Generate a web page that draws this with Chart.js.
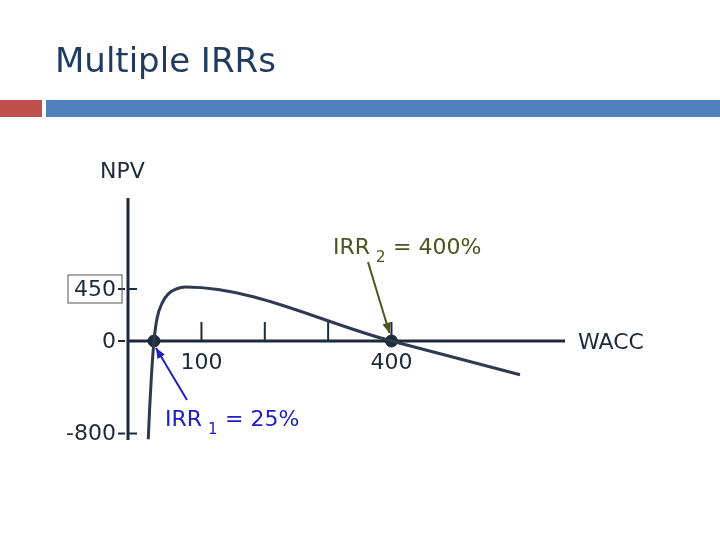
<!DOCTYPE html>
<html><head><meta charset="utf-8">
<script src="https://cdn.jsdelivr.net/npm/chart.js@4"></script>
<style>html,body{margin:0;padding:0;background:#fff}#w{position:relative;width:720px;height:540px}</style>
</head><body><div id="w"><canvas id="c" width="720" height="540"></canvas></div>
<script>
const curveX = [16, 18, 21, 25, 30, 38, 48, 60, 75, 400, 603];
const curveY = [-850, -600, -300, 0, 200, 330, 410, 450, 467, 0, -292];
const irrX = [25, 400];
const irrY = [0, 0];
const xTicks = [100, 200, 300, 400];
const xTickLabels = ['100', '', '', '400'];
const yTicks = [450, 0, -800];
const yTickLabels = ['450', '0', '-800'];

const deco = {
  id: 'deco',
  beforeDraw(chart) {
    const c = chart.ctx, xs = chart.scales.x, ys = chart.scales.y, a = chart.chartArea;
    c.save();
    c.fillStyle = '#fff'; c.fillRect(0, 0, 720, 540);
    c.fillStyle = '#c0504d'; c.fillRect(0, 100, 42, 17);
    c.fillStyle = '#4f81bd'; c.fillRect(46, 100, 674, 17);
    c.fillStyle = '#1f3b5f'; c.font = '34px "DejaVu Sans"'; c.textBaseline = 'alphabetic';
    c.fillText('Multiple IRRs', 55, 72);
    const dark = '#1e2a3c';
    c.strokeStyle = dark; c.lineWidth = 3;
    const y0 = ys.getPixelForValue(0);
    c.beginPath(); c.moveTo(a.left, a.top); c.lineTo(a.left, a.bottom); c.stroke();
    c.beginPath(); c.moveTo(a.left, y0); c.lineTo(a.right, y0); c.stroke();
    c.lineWidth = 2;
    xTicks.forEach(v => { const px = xs.getPixelForValue(v); c.beginPath(); c.moveTo(px, y0 - 19); c.lineTo(px, y0); c.stroke(); });
    c.font = '22px "DejaVu Sans"'; c.fillStyle = dark; c.textAlign = 'center'; c.textBaseline = 'middle';
    xTicks.forEach((v, i) => { if (xTickLabels[i]) c.fillText(xTickLabels[i], xs.getPixelForValue(v), y0 + 22); });
    c.textAlign = 'right';
    yTicks.forEach((v, i) => {
      const py = ys.getPixelForValue(v);
      c.beginPath(); c.moveTo(a.left, py); c.lineTo(a.left + 9, py); c.stroke();
      c.beginPath(); c.moveTo(a.left - 3, py); c.lineTo(a.left - 10, py); c.stroke();
      c.fillText(yTickLabels[i], a.left - 12, py + 1);
    });
    c.lineWidth = 1; c.strokeStyle = '#555';
    const p450 = ys.getPixelForValue(450);
    c.strokeRect(68, p450 - 14, 54, 28);
    c.textAlign = 'left';
    c.fillText('NPV', 100, 172);
    c.fillText('WACC', 578, 343);
    c.fillStyle = '#4a5520';
    c.fillText('IRR', 333, 248);
    c.font = '15px "DejaVu Sans"'; c.fillText('2', 376, 258);
    c.font = '22px "DejaVu Sans"'; c.fillText(' = 400%', 386, 248);
    c.fillStyle = '#2020c0';
    c.fillText('IRR', 165, 420);
    c.font = '15px "DejaVu Sans"'; c.fillText('1', 208, 430);
    c.font = '22px "DejaVu Sans"'; c.fillText(' = 25%', 218, 420);
    c.restore();
  },
  afterDraw(chart) {
    const c = chart.ctx, xs = chart.scales.x, ys = chart.scales.y;
    const arrow = (x1, y1, x2, y2, col) => {
      c.strokeStyle = col; c.fillStyle = col; c.lineWidth = 2;
      c.beginPath(); c.moveTo(x1, y1); c.lineTo(x2, y2); c.stroke();
      const ang = Math.atan2(y2 - y1, x2 - x1), L = 11;
      c.beginPath(); c.moveTo(x2, y2);
      c.lineTo(x2 - L * Math.cos(ang - 0.4), y2 - L * Math.sin(ang - 0.4));
      c.lineTo(x2 - L * Math.cos(ang + 0.4), y2 - L * Math.sin(ang + 0.4));
      c.closePath(); c.fill();
    };
    c.save();
    const y0 = ys.getPixelForValue(0);
    arrow(368, 262, xs.getPixelForValue(400) - 2, y0 - 8, '#4a5520');
    arrow(187, 400, xs.getPixelForValue(25) + 2, y0 + 7, '#2020c0');
    c.restore();
  }
};

new Chart(document.getElementById('c'), {
  type: 'scatter',
  data: { datasets: [
    { data: curveX.map((x, i) => ({x, y: curveY[i]})), showLine: true, borderColor: '#2d3a4f', borderWidth: 3, pointRadius: 0, tension: 0.3, cubicInterpolationMode: 'monotone' },
    { data: irrX.map((x, i) => ({x, y: irrY[i]})), pointRadius: 6, pointBackgroundColor: '#1e2a3c', pointBorderColor: '#1e2a3c' }
  ]},
  options: {
    responsive: false, animation: false, events: [],
    layout: { padding: { left: 128, right: 155, top: 198, bottom: 100 } },
    plugins: { legend: { display: false }, tooltip: { enabled: false } },
    scales: {
      x: { type: 'linear', min: -16, max: 674, display: false },
      y: { type: 'linear', min: -856, max: 1237, display: false }
    }
  },
  plugins: [deco]
});
</script></body></html>
